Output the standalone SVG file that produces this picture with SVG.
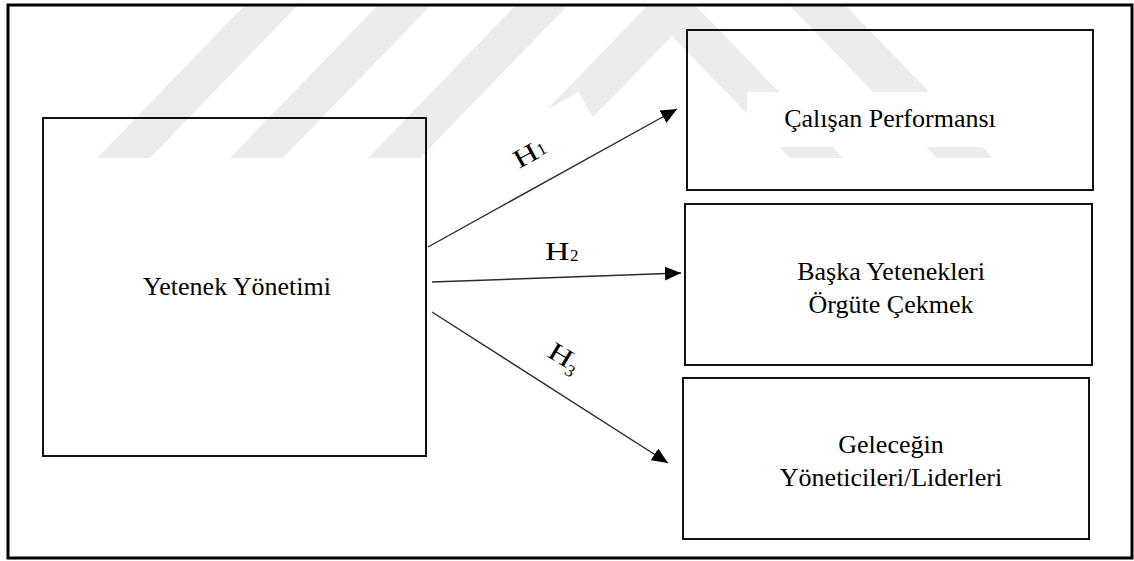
<svg xmlns="http://www.w3.org/2000/svg" width="1134" height="561" viewBox="0 0 1134 561">
  <style>
    .box { fill: none; stroke: #111; stroke-width: 2; }
    .frame { fill: none; stroke: #000; stroke-width: 3; }
    .lbl { font-family: "Liberation Serif", "Times New Roman", serif; font-size: 26px; fill: #000; text-anchor: middle; }
    .h { font-family: "Liberation Serif", "Times New Roman", serif; font-size: 26px; fill: #000; }
    .sub { font-family: "Liberation Serif", "Times New Roman", serif; font-size: 17px; fill: #000; }
    .wm { fill: #ececec; stroke: none; }
    .conn { fill: none; stroke: #2a2a2a; stroke-width: 1.4; }
  </style>
  <defs>
    <marker id="arrow" markerUnits="userSpaceOnUse" markerWidth="17" markerHeight="14" refX="16" refY="7" orient="auto">
      <path d="M0,0 L16,7 L0,14 Z" fill="#000"/>
    </marker>
  </defs>
  <rect x="0" y="0" width="1134" height="561" fill="#fff"/>
  <g id="watermark">
    <polygon class="wm" points="97,158 150,158 298,5 245,5"/>
    <polygon class="wm" points="230,158 283,158 431,5 378,5"/>
    <polygon class="wm" points="368,158 420,158 568,5 516,5"/>
    <polygon class="wm" points="500,158 553,158 672,36 790,158 843,158 695,5 648,5"/>
    <polygon class="wm" points="789,5 845,5 993,158 937,158"/>
    <g transform="translate(520,168) rotate(-29)">
      <rect x="-20" y="-38" width="108" height="52" fill="#fff"/>
    </g>
    <rect x="747" y="92" width="253" height="55" fill="#fff"/>
  </g>
  <rect class="frame" x="8" y="5" width="1124" height="553"/>
  <g id="node-yetenek">
    <rect class="box" x="43" y="118" width="383" height="338"/>
    <text class="lbl" x="237" y="295">Yetenek Yönetimi</text>
  </g>
  <g id="node-performans">
    <rect class="box" x="687" y="30" width="406" height="160"/>
    <text class="lbl" x="890" y="127">Çalışan Performansı</text>
  </g>
  <g id="node-cekmek">
    <rect class="box" x="685" y="204" width="407" height="161"/>
    <text class="lbl" x="891" y="280">Başka Yetenekleri</text>
    <text class="lbl" x="891" y="313">Örgüte Çekmek</text>
  </g>
  <g id="node-liderler">
    <rect class="box" x="683" y="378" width="406" height="161"/>
    <text class="lbl" x="891" y="453">Geleceğin</text>
    <text class="lbl" x="891" y="486">Yöneticileri/Liderleri</text>
  </g>
  <g id="connectors">
    <path class="conn" d="M428,247 L677,109" marker-end="url(#arrow)"/>
    <path class="conn" d="M432,282 L681,273" marker-end="url(#arrow)"/>
    <path class="conn" d="M432,312 L668,463" marker-end="url(#arrow)"/>
    <g id="label-h1" transform="translate(519,169) rotate(-29)">
      <text class="h" transform="scale(1.3,1)">H</text>
      <text class="sub" x="25" y="-1">1</text>
    </g>
    <g id="label-h2" transform="translate(545,260)">
      <text class="h" transform="scale(1.3,1)">H</text>
      <text class="sub" x="25" y="0.5">2</text>
    </g>
    <g id="label-h3" transform="translate(546,356) rotate(31)">
      <text class="h" transform="scale(1.3,1)">H</text>
      <text class="sub" x="24" y="6">3</text>
    </g>
  </g>
</svg>
